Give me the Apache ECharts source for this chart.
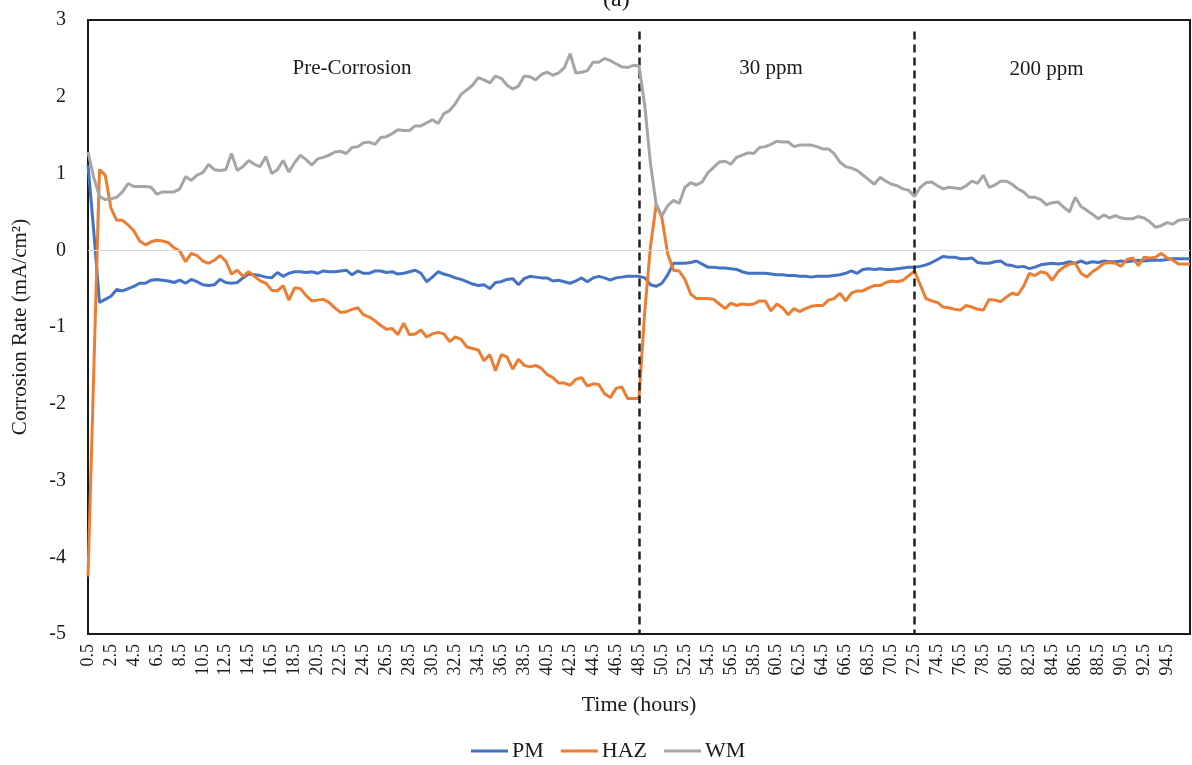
<!DOCTYPE html>
<html>
<head>
<meta charset="utf-8">
<title>Corrosion Rate vs Time</title>
<script src="https://cdn.jsdelivr.net/npm/echarts@6/dist/echarts.min.js"></script>
<style>
  html, body { margin: 0; padding: 0; background: #fff; }
  #chart { width: 1192px; height: 765px; }
</style>
</head>
<body>
<div id="chart"></div>
<script>
// Sampling: one reading every half hour, from 0.5 h to 96.5 h
const startHour = 0.5;
const stepHour = 0.5;
const sampleCount = 193;
const hours = [];
for (let i = 0; i < sampleCount; i++) hours.push((startHour + stepHour * i).toFixed(1));

// Phase boundaries (hours) and phase labels
const phaseBounds = ['48.5', '72.5'];
const phaseLabels = [
  { name: 'Pre-Corrosion', at: '23.5', y: 2.37 },
  { name: '30 ppm', at: '60.0', y: 2.37 },
  { name: '200 ppm', at: '84.0', y: 2.35 }
];

// Corrosion rate, mA/cm²
const pm = [
  1.11, 0.25, -0.68, -0.64, -0.60, -0.51, -0.53, -0.50, -0.47, -0.43,
  -0.43, -0.39, -0.38, -0.39, -0.40, -0.42, -0.39, -0.43, -0.38, -0.41,
  -0.45, -0.46, -0.45, -0.38, -0.42, -0.43, -0.42, -0.36, -0.31, -0.32,
  -0.33, -0.35, -0.36, -0.29, -0.34, -0.30, -0.28, -0.28, -0.29, -0.28,
  -0.30, -0.27, -0.28, -0.28, -0.27, -0.26, -0.32, -0.27, -0.30, -0.30,
  -0.27, -0.27, -0.29, -0.28, -0.31, -0.30, -0.28, -0.26, -0.30, -0.41,
  -0.35, -0.28, -0.31, -0.33, -0.36, -0.38, -0.41, -0.44, -0.46, -0.45,
  -0.50, -0.42, -0.41, -0.38, -0.37, -0.45, -0.37, -0.34, -0.35, -0.36,
  -0.36, -0.40, -0.39, -0.41, -0.43, -0.40, -0.36, -0.41, -0.36, -0.34,
  -0.36, -0.39, -0.36, -0.35, -0.34, -0.34, -0.34, -0.36, -0.45, -0.47,
  -0.43, -0.32, -0.17, -0.17, -0.17, -0.16, -0.14, -0.18, -0.22, -0.22,
  -0.23, -0.23, -0.24, -0.25, -0.28, -0.30, -0.30, -0.30, -0.30, -0.31,
  -0.32, -0.32, -0.33, -0.33, -0.34, -0.34, -0.35, -0.34, -0.34, -0.34,
  -0.33, -0.32, -0.30, -0.27, -0.30, -0.25, -0.24, -0.25, -0.24, -0.25,
  -0.25, -0.24, -0.23, -0.22, -0.22, -0.21, -0.19, -0.16, -0.12, -0.08,
  -0.09, -0.09, -0.11, -0.11, -0.10, -0.16, -0.17, -0.17, -0.15, -0.14,
  -0.19, -0.20, -0.22, -0.21, -0.24, -0.22, -0.19, -0.18, -0.17, -0.18,
  -0.17, -0.15, -0.17, -0.14, -0.17, -0.15, -0.16, -0.14, -0.15, -0.15,
  -0.14, -0.15, -0.14, -0.13, -0.14, -0.13, -0.13, -0.13, -0.12, -0.11,
  -0.11, -0.11, -0.11
];

const haz = [
  -4.25, -1.60, 1.05, 0.98, 0.55, 0.39, 0.39, 0.33, 0.25, 0.12,
  0.07, 0.11, 0.13, 0.12, 0.10, 0.03, -0.01, -0.15, -0.04, -0.07,
  -0.14, -0.17, -0.13, -0.07, -0.14, -0.31, -0.26, -0.34, -0.28, -0.34,
  -0.40, -0.43, -0.52, -0.53, -0.46, -0.65, -0.49, -0.50, -0.59, -0.66,
  -0.65, -0.64, -0.68, -0.75, -0.81, -0.80, -0.77, -0.75, -0.84, -0.87,
  -0.92, -0.98, -1.03, -1.02, -1.10, -0.95, -1.10, -1.09, -1.04, -1.13,
  -1.09, -1.07, -1.09, -1.19, -1.13, -1.16, -1.26, -1.28, -1.30, -1.44,
  -1.36, -1.57, -1.36, -1.39, -1.55, -1.42, -1.50, -1.52, -1.50, -1.54,
  -1.62, -1.66, -1.73, -1.73, -1.76, -1.68, -1.66, -1.77, -1.74, -1.75,
  -1.87, -1.92, -1.80, -1.78, -1.93, -1.93, -1.93, -0.80, 0.05, 0.60,
  0.42, -0.05, -0.26, -0.27, -0.38, -0.57, -0.63, -0.63, -0.63, -0.64,
  -0.70, -0.76, -0.69, -0.72, -0.70, -0.71, -0.70, -0.66, -0.66, -0.79,
  -0.70, -0.75, -0.84, -0.76, -0.80, -0.76, -0.73, -0.72, -0.72, -0.65,
  -0.63, -0.56, -0.66, -0.56, -0.53, -0.53, -0.49, -0.46, -0.46, -0.42,
  -0.40, -0.41, -0.39, -0.33, -0.27, -0.45, -0.63, -0.66, -0.68, -0.74,
  -0.75, -0.77, -0.78, -0.72, -0.74, -0.77, -0.78, -0.64, -0.65, -0.67,
  -0.61, -0.56, -0.58, -0.47, -0.30, -0.33, -0.28, -0.30, -0.39, -0.28,
  -0.22, -0.18, -0.17, -0.30, -0.35, -0.28, -0.23, -0.17, -0.16, -0.17,
  -0.21, -0.12, -0.10, -0.20, -0.09, -0.10, -0.09, -0.04, -0.10, -0.13,
  -0.18, -0.18, -0.18
];

const wm = [
  1.28, 0.95, 0.70, 0.66, 0.67, 0.69, 0.76, 0.87, 0.83, 0.83,
  0.83, 0.82, 0.73, 0.76, 0.76, 0.76, 0.80, 0.96, 0.91, 0.98,
  1.01, 1.12, 1.05, 1.04, 1.05, 1.26, 1.04, 1.09, 1.17, 1.12,
  1.09, 1.22, 1.00, 1.05, 1.17, 1.02, 1.14, 1.24, 1.18, 1.11,
  1.19, 1.21, 1.24, 1.28, 1.29, 1.26, 1.34, 1.35, 1.40, 1.41,
  1.38, 1.47, 1.48, 1.52, 1.57, 1.56, 1.56, 1.62, 1.62, 1.66,
  1.70, 1.65, 1.78, 1.82, 1.91, 2.03, 2.09, 2.15, 2.25, 2.22,
  2.18, 2.27, 2.24, 2.15, 2.10, 2.14, 2.27, 2.26, 2.22, 2.29,
  2.32, 2.28, 2.31, 2.38, 2.56, 2.31, 2.32, 2.34, 2.45, 2.45,
  2.50, 2.47, 2.43, 2.39, 2.38, 2.41, 2.40, 1.89, 1.13, 0.59,
  0.45, 0.58, 0.65, 0.61, 0.82, 0.88, 0.85, 0.89, 1.01, 1.08,
  1.15, 1.16, 1.12, 1.21, 1.24, 1.27, 1.26, 1.34, 1.35, 1.38,
  1.42, 1.41, 1.41, 1.35, 1.37, 1.37, 1.37, 1.35, 1.32, 1.32,
  1.26, 1.15, 1.09, 1.07, 1.04, 0.98, 0.92, 0.86, 0.95, 0.90,
  0.86, 0.84, 0.80, 0.78, 0.70, 0.82, 0.88, 0.89, 0.84, 0.80,
  0.82, 0.81, 0.80, 0.84, 0.90, 0.87, 0.98, 0.82, 0.85, 0.90,
  0.90, 0.86, 0.80, 0.76, 0.69, 0.69, 0.66, 0.59, 0.62, 0.63,
  0.56, 0.50, 0.69, 0.57, 0.52, 0.47, 0.41, 0.46, 0.42, 0.45,
  0.42, 0.41, 0.41, 0.44, 0.42, 0.37, 0.30, 0.32, 0.36, 0.34,
  0.39, 0.40, 0.40
];

const yTicks = { min: -5, max: 3, step: 1 };

const FONT = 'Liberation Serif';
const TEXT = '#1a1a1a';

const chart = echarts.init(document.getElementById('chart'), null, { renderer: 'canvas' });

// Dashed phase boundaries, drawn from just under the frame top down to the floor
const boundaryLines = phaseBounds.map(h => [
  { coord: [h, 2.85] },
  { coord: [h, yTicks.min] }
]);

chart.setOption({
  animation: false,
  backgroundColor: '#fff',
  textStyle: { fontFamily: FONT, color: TEXT },
  title: {
    text: '(a)',
    left: 598,
    top: -17,
    textStyle: { fontFamily: FONT, fontSize: 24, fontWeight: 'normal', color: TEXT }
  },
  grid: {
    left: 88, right: 2, top: 20, bottom: 131,
    show: true,
    borderColor: '#1a1a1a',
    borderWidth: 2,
    backgroundColor: 'transparent',
    containLabel: false
  },
  legend: {
    data: ['PM', 'HAZ', 'WM'],
    left: 466,
    top: 735,
    icon: 'rect',
    itemWidth: 37,
    itemHeight: 3,
    itemGap: 17,
    textStyle: { fontFamily: FONT, fontSize: 22, color: TEXT, padding: [0, 0, 0, -1] }
  },
  xAxis: {
    type: 'category',
    data: hours,
    boundaryGap: false,
    name: 'Time (hours)',
    nameLocation: 'middle',
    nameMoveOverlap: false,
    nameGap: 60,
    nameTextStyle: { fontFamily: FONT, fontSize: 22, color: TEXT },
    axisLine: { show: true, onZero: false, lineStyle: { color: '#1a1a1a', width: 2 } },
    axisTick: { show: false },
    axisLabel: {
      rotate: 90,
      margin: 10,
      fontFamily: FONT,
      fontSize: 18,
      color: TEXT,
      interval: (index) => index % 4 === 0 && index <= 188
    },
    splitLine: { show: false }
  },
  yAxis: {
    type: 'value',
    min: yTicks.min,
    max: yTicks.max,
    interval: yTicks.step,
    name: 'Corrosion Rate (mA/cm²)',
    nameLocation: 'middle',
    nameMoveOverlap: false,
    nameGap: 57,
    nameTextStyle: { fontFamily: FONT, fontSize: 21, color: TEXT },
    axisLine: { show: true, lineStyle: { color: '#1a1a1a', width: 2 } },
    axisTick: { show: false },
    axisLabel: { margin: 22, fontFamily: FONT, fontSize: 20, color: TEXT },
    splitLine: { show: false }
  },
  series: [
    {
      name: 'PM',
      type: 'line',
      data: pm,
      symbol: 'none',
      lineStyle: { color: '#4472C4', width: 3 },
      itemStyle: { color: '#4472C4' },
      z: 3,
      markLine: {
        silent: true,
        symbol: 'none',
        label: { show: false },
        animation: false,
        data: [
          { yAxis: 0, lineStyle: { color: '#d9d9d9', width: 1, type: 'solid' } }
        ]
      },
      markPoint: {
        silent: true,
        symbol: 'rect',
        symbolSize: 1,
        itemStyle: { color: 'rgba(0,0,0,0)' },
        label: {
          show: true,
          position: 'inside',
          fontFamily: FONT,
          fontSize: 21,
          color: TEXT,
          formatter: (p) => p.name
        },
        data: phaseLabels.map(p => ({ name: p.name, coord: [p.at, p.y] }))
      }
    },
    {
      name: 'HAZ',
      type: 'line',
      data: haz,
      symbol: 'none',
      lineStyle: { color: '#ED7D31', width: 3 },
      itemStyle: { color: '#ED7D31' },
      z: 4
    },
    {
      name: 'WM',
      type: 'line',
      data: wm,
      symbol: 'none',
      lineStyle: { color: '#A5A5A5', width: 3 },
      itemStyle: { color: '#A5A5A5' },
      z: 5,
      markLine: {
        silent: true,
        symbol: 'none',
        label: { show: false },
        animation: false,
        lineStyle: { color: '#222', width: 2.5, type: [8, 5] },
        data: boundaryLines
      }
    }
  ]
});
</script>
</body>
</html>
